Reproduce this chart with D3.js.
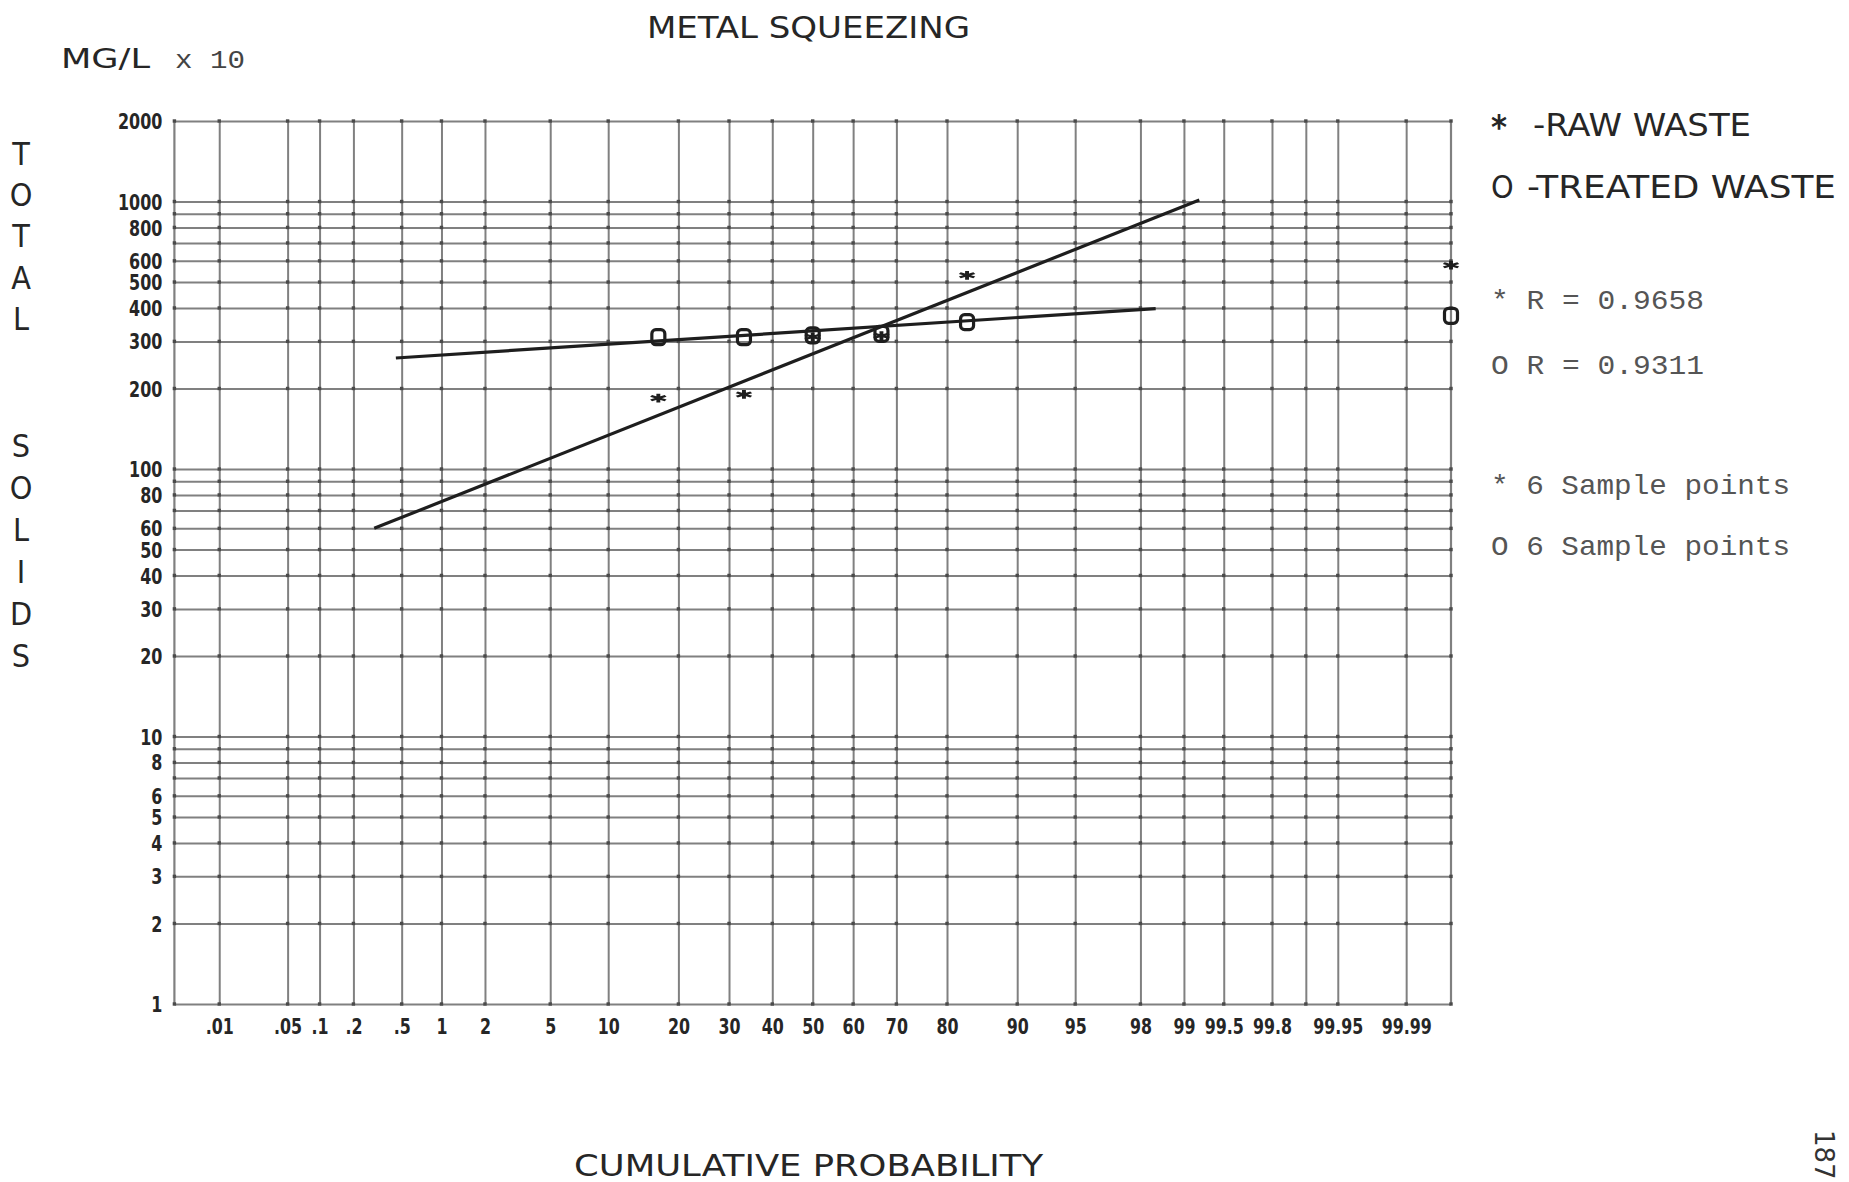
<!DOCTYPE html>
<html><head><meta charset="utf-8">
<script src="https://cdn.jsdelivr.net/npm/d3@7"></script>
<style>body{margin:0;background:#fff}</style>
</head><body>
<svg id="c" width="1849" height="1182" xmlns="http://www.w3.org/2000/svg"></svg>
<script>
// ---------- data ----------
const yGridValues = [1,2,3,4,5,6,7,8,9,10,20,30,40,50,60,70,80,90,100,200,300,400,500,600,700,800,900,1000,2000];
const yTickLabels = [1,2,3,4,5,6,8,10,20,30,40,50,60,80,100,200,300,400,500,600,800,1000,2000];
const xGridValues = [0.01,0.05,0.1,0.2,0.5,1,2,5,10,20,30,40,50,60,70,80,90,95,98,99,99.5,99.8,99.9,99.95,99.99];
const xTickValues = [0.01,0.05,0.1,0.2,0.5,1,2,5,10,20,30,40,50,60,70,80,90,95,98,99,99.5,99.8,99.95,99.99];
const xTickLabels = [".01",".05",".1",".2",".5","1","2","5","10","20","30","40","50","60","70","80","90","95","98","99","99.5","99.8","99.95","99.99"];
const plotPositions = [16.67, 33.33, 50, 66.67, 83.33, 100];
const rawWaste     = [184, 190, 312, 315, 530, 578];
const treatedWaste = [311, 311, 316, 320, 354, 374];
const rawFit     = [[0.30, 60], [99.23, 1013]];
const treatedFit = [[0.45, 260], [98.42, 398]];
const yLetters1 = ["T","O","T","A","L"];
const yLetters2 = ["S","O","L","I","D","S"];
const legendLines = ["* R = 0.9658", "O R = 0.9311", "* 6 Sample points", "O 6 Sample points"];

// ---------- helpers ----------
function qnorm(p){
  const a=[-3.969683028665376e+01,2.209460984245205e+02,-2.759285104469687e+02,1.383577518672690e+02,-3.066479806614716e+01,2.506628277459239e+00];
  const b=[-5.447609879822406e+01,1.615858368580409e+02,-1.556989798598866e+02,6.680131188771972e+01,-1.328068155288572e+01];
  const c=[-7.784894002430293e-03,-3.223964580411365e-01,-2.400758277161838e+00,-2.549732539343734e+00,4.374664141464968e+00,2.938163982698783e+00];
  const d=[7.784695709041462e-03,3.224671290700398e-01,2.445134137142996e+00,3.754408661907416e+00];
  if(p<=0) return -10; if(p>=1) return 10;
  const pl=0.02425, ph=1-pl; let q,r;
  if(p<pl){q=Math.sqrt(-2*Math.log(p));return (((((c[0]*q+c[1])*q+c[2])*q+c[3])*q+c[4])*q+c[5])/((((d[0]*q+d[1])*q+d[2])*q+d[3])*q+1);}
  if(p<=ph){q=p-0.5;r=q*q;return (((((a[0]*r+a[1])*r+a[2])*r+a[3])*r+a[4])*r+a[5])*q/(((((b[0]*r+b[1])*r+b[2])*r+b[3])*r+b[4])*r+1);}
  q=Math.sqrt(-2*Math.log(1-p));return -(((((c[0]*q+c[1])*q+c[2])*q+c[3])*q+c[4])*q+c[5])/((((d[0]*q+d[1])*q+d[2])*q+d[3])*q+1);
}

const svg = d3.select("#c");
const L = 174.4, R = 1451, T = 121, B = 1004;
const z = d3.scaleLinear().domain([-4,4]).range([L,R]).clamp(true);
const px = p => z(qnorm(p/100));
const y = d3.scaleLog().domain([1,2000]).range([B,T]);

const gridColor = "#808080", ink = "#1e1e1e";
const plotFont = "'DejaVu Sans Condensed','DejaVu Sans',sans-serif";
const typeFont = "'Liberation Mono','DejaVu Sans Mono',monospace";

// ---------- grid via axes ----------
const labelMap = new Map(xTickValues.map((v,i)=>[v, xTickLabels[i]]));
const gy = svg.append("g").attr("transform",`translate(${L},0)`)
  .call(d3.axisLeft(y).tickValues(yGridValues).tickSize(-(R-L)).tickPadding(0)
    .tickFormat(d => yTickLabels.includes(d) ? String(d) : ""));
gy.select(".domain").remove();
gy.selectAll(".tick line").attr("stroke",gridColor).attr("stroke-width",2);
gy.selectAll(".tick text").attr("x",0).attr("dy","0.36em")
  .attr("transform","translate(-12,0) scale(0.76,1)")
  .attr("font-family","'DejaVu Sans',sans-serif").attr("font-weight","bold")
  .attr("font-size",21).attr("fill","#262626");

const gx = svg.append("g").attr("transform",`translate(0,${B})`)
  .call(d3.axisBottom(z).tickValues(xGridValues.map(p=>qnorm(p/100))).tickSize(-(B-T))
    .tickFormat((d,i) => labelMap.has(xGridValues[i]) ? labelMap.get(xGridValues[i]) : ""));
gx.select(".domain").remove();
gx.selectAll(".tick line").attr("stroke",gridColor).attr("stroke-width",2);
gx.selectAll(".tick text").attr("y",30).attr("dy",0)
  .attr("transform","scale(0.72,1)")
  .attr("font-family","'DejaVu Sans',sans-serif").attr("font-weight","bold")
  .attr("font-size",22).attr("fill","#262626");

// frame edges
svg.append("g").selectAll("line").data(z.range()).join("line")
  .attr("x1",d=>d).attr("x2",d=>d).attr("y1",T).attr("y2",B)
  .attr("stroke",gridColor).attr("stroke-width",2.2);

// intersection dots
const xs = z.range().concat(xGridValues.map(px));
const dots = [];
xs.forEach(xx => yGridValues.forEach(v => dots.push([xx, y(v)])));
svg.append("g").selectAll("rect").data(dots).join("rect")
  .attr("x",d=>d[0]-1.7).attr("y",d=>d[1]-1.7).attr("width",3.4).attr("height",3.4)
  .attr("fill","#4a4a4a");

// ---------- fit lines ----------
const line = d3.line().x(d=>px(d[0])).y(d=>y(d[1]));
[rawFit, treatedFit].forEach(f => svg.append("path").attr("d",line(f))
  .attr("fill","none").attr("stroke",ink).attr("stroke-width",3.2));

// ---------- markers ----------
svg.append("g").selectAll("rect").data(treatedWaste).join("rect")
  .attr("x",(d,i)=>px(plotPositions[i])-6.5).attr("y",d=>y(d)-7.5)
  .attr("width",13).attr("height",15).attr("rx",4)
  .attr("fill","none").attr("stroke",ink).attr("stroke-width",3.2);
const star = d3.symbol(d3.symbolAsterisk).size(150)();
svg.append("g").selectAll("path").data(rawWaste).join("path")
  .attr("d",star)
  .attr("transform",(d,i)=>`translate(${px(plotPositions[i])},${y(d)}) scale(1.15,0.6)`)
  .attr("fill","none").attr("stroke",ink).attr("stroke-width",3.4);

// ---------- texts ----------
function txt(s, x, yy, size, opts={}){
  const t = svg.append("text").attr("x",x).attr("y",yy).text(s)
    .attr("font-size",size).attr("font-family",opts.font||plotFont)
    .attr("fill",opts.fill||"#262626");
  if(opts.anchor) t.attr("text-anchor",opts.anchor);
  if(opts.len) t.attr("textLength",opts.len).attr("lengthAdjust","spacingAndGlyphs");
  if(opts.weight) t.attr("font-weight",opts.weight);
  return t;
}
txt("METAL SQUEEZING", 647, 38, 31, {len:323});
txt("MG/L", 61, 68, 27, {len:89});
txt("x 10", 175, 68, 25, {font:typeFont, fill:"#444", len:70});

yLetters1.forEach((ch,i)=>txt(ch, 21, 153.3+41.3*i+11.5, 32, {anchor:"middle"}));
yLetters2.forEach((ch,i)=>txt(ch, 21, 445.7+41.9*i+11.5, 32, {anchor:"middle"}));

txt("*", 1491, 139, 34, {weight:"bold"});
txt("-RAW WASTE", 1533, 136, 32, {len:218});
txt("O", 1491, 198, 32);
txt("-TREATED WASTE", 1527, 198, 32, {len:309});

const lgY = [309, 374, 494, 555];
legendLines.forEach((s,i)=>txt(s, 1491, lgY[i], 28, {font:typeFont, fill:"#555", len: i<2?213:299}));

txt("CUMULATIVE PROBABILITY", 574, 1176, 31, {len:469});

svg.append("text").text("187").attr("transform","translate(1815,1130) rotate(90)")
  .attr("font-family","'DejaVu Sans',sans-serif").attr("font-size",26).attr("fill","#333");
</script>
</body></html>
